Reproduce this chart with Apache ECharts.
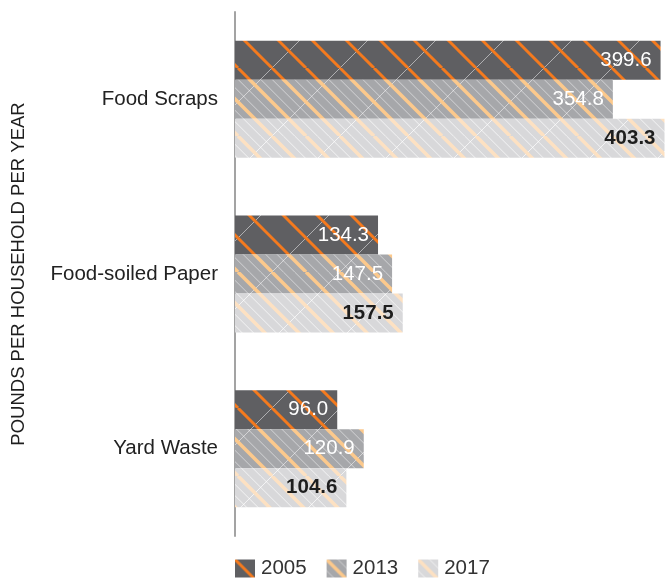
<!DOCTYPE html>
<html>
<head>
<meta charset="utf-8">
<script src="https://cdn.jsdelivr.net/npm/echarts@6/dist/echarts.min.js"></script>
<style>
  html, body { margin: 0; padding: 0; background: #fff; }
  #chart { width: 668px; height: 588px; }
</style>
</head>
<body>
<div id="chart"></div>
<script>
// Waste composition per household, by year
const categories = ['Food Scraps', 'Food-soiled Paper', 'Yard Waste'];
const years = ['2005', '2013', '2017'];
const values2005 = [399.6, 134.3, 96.0];
const values2013 = [354.8, 147.5, 120.9];
const values2017 = [403.3, 157.5, 104.6];
const axisTitle = 'POUNDS PER HOUSEHOLD PER YEAR';

const FONT = '"Liberation Sans", Arial, sans-serif';

// Hatched fill: base colour, thick diagonal stripes, thin white cross lines
function hatch(base, stripe, stripeW, whiteAlpha, extraWhite) {
  const P = 34, T = 68;
  const c = document.createElement('canvas');
  c.width = T; c.height = T;
  const g = c.getContext('2d');
  g.fillStyle = base;
  g.fillRect(0, 0, T, T);
  g.lineCap = 'butt';
  // thin white "/" lines
  g.strokeStyle = 'rgba(255,255,255,' + whiteAlpha + ')';
  g.lineWidth = 1;
  for (let k = -1; k <= 1; k++) {
    g.beginPath(); g.moveTo(k * T, T); g.lineTo(k * T + T, 0); g.stroke();
  }
  // thin white "\" lines between the stripes
  if (extraWhite) {
    for (let k = -3; k <= 3; k++) {
      [P / 3, 2 * P / 3].forEach(off => {
        g.beginPath(); g.moveTo(k * P + off, 0); g.lineTo(k * P + off + T, T); g.stroke();
      });
    }
  }
  // thick "\" stripes
  g.strokeStyle = stripe;
  g.lineWidth = stripeW;
  for (let k = -3; k <= 3; k++) {
    g.beginPath(); g.moveTo(k * P, 0); g.lineTo(k * P + T, T); g.stroke();
  }
  return { image: c, repeat: 'repeat' };
}

const fills = [
  hatch('#5f5f62', '#f47a1e', 3, 0.5, false),
  hatch('#a6a7aa', '#fcc98c', 3.5, 0.5, true),
  hatch('#d8d8da', '#fde1c2', 3.5, 0.7, true)
];
const labelColors = ['#ffffff', '#ffffff', '#1e1e1e'];
const labelWeights = ['normal', 'normal', 'bold'];
const seriesValues = [values2005, values2013, values2017];

const chart = echarts.init(document.getElementById('chart'), null, { renderer: 'canvas' });

const xMax = Math.max(...values2005, ...values2013, ...values2017);

chart.setOption({
  animation: false,
  grid: { left: 235, right: 3.5, top: 12, bottom: 52, containLabel: false },
  xAxis: {
    type: 'value', min: 0, max: xMax,
    show: false
  },
  yAxis: {
    type: 'category',
    data: categories,
    inverse: true,
    axisLine: { show: true, lineStyle: { color: '#a3a3a3', width: 2 } },
    axisTick: { show: false },
    axisLabel: { color: '#222', fontSize: 20.5, fontFamily: FONT, margin: 17 },
    name: axisTitle,
    nameLocation: 'middle',
    nameRotate: 90,
    nameGap: 207,
    nameTextStyle: { color: '#1e1e1e', fontSize: 18.5, fontFamily: FONT }
  },
  legend: {
    data: years,
    left: 230,
    bottom: 4,
    itemWidth: 20,
    itemHeight: 18,
    itemGap: 20,
    icon: 'rect',
    textStyle: { color: '#333', fontSize: 20.5, fontFamily: FONT, padding: [0, 0, 0, 1] }
  },
  series: years.map((y, i) => ({
    name: y,
    type: 'bar',
    data: seriesValues[i],
    barGap: '0%',
    barCategoryGap: '33%',
    itemStyle: { color: fills[i] },
    label: {
      show: true,
      position: 'insideRight',
      distance: 9,
      color: labelColors[i],
      fontWeight: labelWeights[i],
      fontSize: 20.5,
      fontFamily: FONT,
      formatter: p => p.value.toFixed(1)
    }
  }))
});
</script>
</body>
</html>
